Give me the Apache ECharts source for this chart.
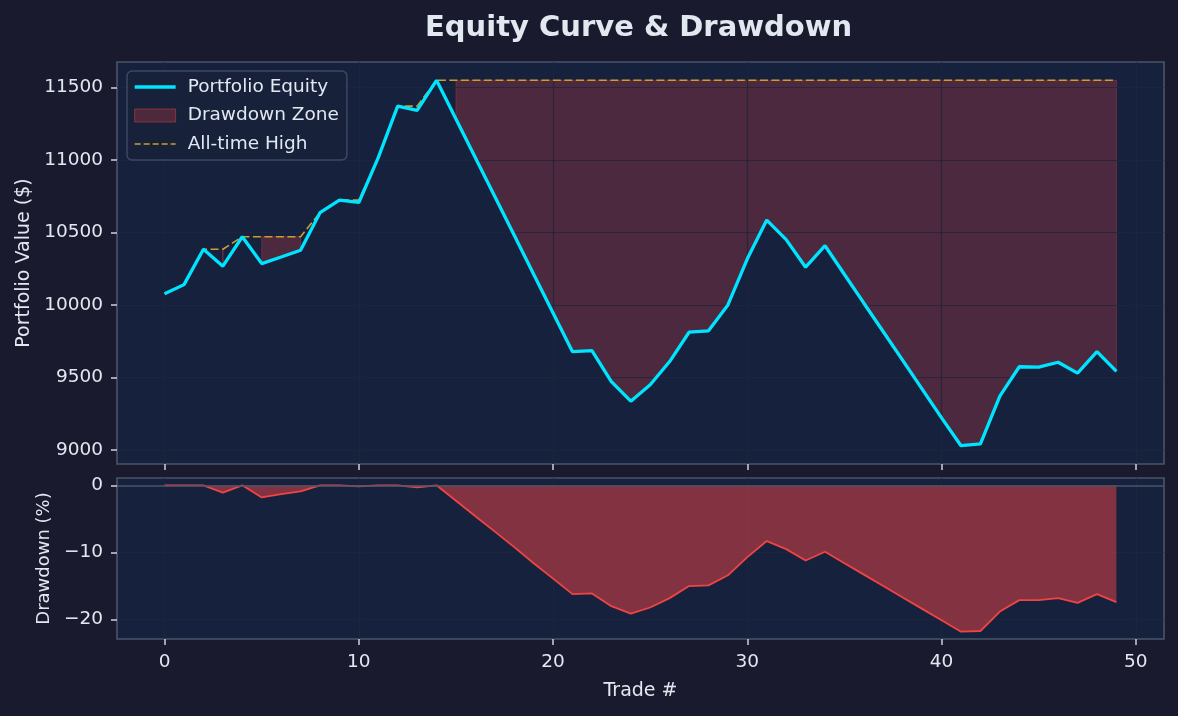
<!DOCTYPE html>
<html>
<head>
<meta charset="utf-8">
<title>Equity Curve &amp; Drawdown</title>
<script src="https://cdn.jsdelivr.net/npm/echarts@6/dist/echarts.min.js"></script>
<style>
  html, body { margin: 0; padding: 0; background: #1a1a2e; }
  #chart { width: 1178px; height: 716px; }
</style>
</head>
<body>
<div id="chart"></div>
<script>
// values, one per trade (0..49)
const equity = [
  10077, 10140, 10384, 10267, 10470, 10285, 10330, 10377, 10636, 10722,
  10706, 11015, 11370, 11340, 11548, 11281, 11014, 10747, 10480, 10212,
  9945, 9678, 9685, 9472, 9337, 9450, 9610, 9812, 9822, 10000,
  10318, 10585, 10450, 10260, 10408, 10210, 10012, 9815, 9618, 9420,
  9222, 9030, 9042, 9372, 9574, 9571, 9605, 9530, 9678, 9542
];
const allTimeHigh = [
  10077, 10140, 10384, 10384, 10470, 10470, 10470, 10470, 10636, 10722,
  10722, 11015, 11370, 11370, 11548, 11548, 11548, 11548, 11548, 11548,
  11548, 11548, 11548, 11548, 11548, 11548, 11548, 11548, 11548, 11548,
  11548, 11548, 11548, 11548, 11548, 11548, 11548, 11548, 11548, 11548,
  11548, 11548, 11548, 11548, 11548, 11548, 11548, 11548, 11548, 11548
];
const drawdownPct = [
  0, 0, 0, -1.1, 0, -1.8, -1.3, -0.9, 0, 0,
  -0.15, 0, 0, -0.3, 0, -2.3, -4.6, -6.9, -9.2, -11.6,
  -13.9, -16.2, -16.1, -18.0, -19.1, -18.2, -16.8, -15.0, -14.9, -13.4,
  -10.7, -8.3, -9.5, -11.2, -9.9, -11.6, -13.3, -15.0, -16.7, -18.4,
  -20.1, -21.8, -21.7, -18.8, -17.1, -17.1, -16.8, -17.5, -16.2, -17.4
];
const tradeTicks = [0, 10, 20, 30, 40, 50];
const equityTicks = [9000, 9500, 10000, 10500, 11000, 11500];
const drawdownTicks = [-20, -10, 0];

const FONT = 'DejaVu Sans';
const TEXT = '#e2e8f0';
const SPINE = '#4a5568';
const GRIDLINE = 'rgba(32,38,58,0.8)';
const ZONE = 'rgba(239,68,68,0.25)';
const CYAN = '#00e5ff';
const GOLD = '#c9a02c';

const equityPts = equity.map((v, i) => [i, v]);
const athPts = allTimeHigh.map((v, i) => [i, v]);
const zonePts = equity.map((v, i) => [i, v, allTimeHigh[i]]);
const ddPts = drawdownPct.map((v, i) => [i, v]);

const minus = v => (v < 0 ? '\u2212' + Math.abs(v) : String(v));
const noSymbol = { color: 'rgba(0,0,0,0)', borderWidth: 0, opacity: 0 };

// fill between equity and the running high, only over runs where equity is below it
function renderZone(params, api) {
  const i = params.dataIndexInside;
  const below = k => api.value(1, k) < api.value(2, k);
  if (!below(i) || (i > 0 && below(i - 1))) return;
  const upper = [], lower = [];
  for (let k = i; k < params.dataInsideLength && below(k); k++) {
    upper.push(api.coord([api.value(0, k), api.value(2, k)]));
    lower.push(api.coord([api.value(0, k), api.value(1, k)]));
  }
  return {
    type: 'polygon',
    shape: { points: upper.concat(lower.reverse()) },
    style: { fill: ZONE, stroke: 'rgba(239,68,68,0.3)', lineWidth: 1 }
  };
}

function xAxisFor(gridIndex, showLabels) {
  return {
    type: 'value', gridIndex, min: -2.45, max: 51.45, z: 2,
    axisLine: { show: false, onZero: false },
    axisTick: { show: true, length: 6, customValues: tradeTicks, lineStyle: { color: '#cbd2dc', width: 1.5 } },
    axisLabel: { show: showLabels, customValues: tradeTicks, color: TEXT, fontSize: 18.5, fontFamily: FONT, margin: 14 },
    splitLine: { show: true, lineStyle: { color: GRIDLINE, width: 1.2 } },
    name: showLabels ? 'Trade #' : '',
    nameLocation: 'middle', nameGap: 43,
    nameTextStyle: { color: TEXT, fontSize: 19, fontFamily: FONT }
  };
}

const chart = echarts.init(document.getElementById('chart'));

chart.setOption({
  backgroundColor: '#1a1a2e',
  animation: false,
  title: {
    text: 'Equity Curve & Drawdown',
    left: 420, top: 9,
    textStyle: { color: TEXT, fontSize: 29, fontWeight: 'bold', fontFamily: FONT }
  },
  legend: {
    left: 127, top: 71, orient: 'vertical',
    padding: [6, 8, 6, 6],
    itemWidth: 41, itemHeight: 13, itemGap: 8.5,
    backgroundColor: 'rgba(24,33,58,0.85)',
    borderColor: '#3c4862', borderWidth: 1.5, borderRadius: 5,
    selectedMode: false,
    textStyle: { color: TEXT, fontSize: 18.5, fontFamily: FONT, lineHeight: 20, padding: [0, 0, 0, 7] },
    data: [
      { name: 'Portfolio Equity', itemStyle: noSymbol, lineStyle: { color: CYAN, width: 3.3 } },
      { name: 'Drawdown Zone', icon: 'rect',
        itemStyle: { color: ZONE, borderColor: 'rgba(239,68,68,0.45)', borderWidth: 1, opacity: 1 } },
      { name: 'All-time High', itemStyle: noSymbol, lineStyle: { color: GOLD, width: 1.6, type: [6, 3] } }
    ]
  },
  grid: [
    { left: 117, top: 62, width: 1047, height: 402, show: true,
      backgroundColor: '#16213e', borderColor: SPINE, borderWidth: 1.6 },
    { left: 117, top: 478, width: 1047, height: 161, show: true,
      backgroundColor: '#16213e', borderColor: SPINE, borderWidth: 1.6 }
  ],
  xAxis: [xAxisFor(0, false), xAxisFor(1, true)],
  yAxis: [
    {
      type: 'value', gridIndex: 0, min: 8904, max: 11674, z: 2,
      axisLine: { show: false, onZero: false },
      axisTick: { show: true, length: 6, customValues: equityTicks, lineStyle: { color: '#cbd2dc', width: 1.5 } },
      axisLabel: { customValues: equityTicks, formatter: v => String(v), color: TEXT, fontSize: 18.5, fontFamily: FONT, margin: 14 },
      splitLine: { show: true, lineStyle: { color: GRIDLINE, width: 1.2 } },
      name: 'Portfolio Value ($)', nameLocation: 'middle', nameGap: 80,
      nameTextStyle: { color: TEXT, fontSize: 19, fontFamily: FONT }
    },
    {
      type: 'value', gridIndex: 1, min: -22.89, max: 1.09, z: 2,
      axisLine: { show: false, onZero: false },
      axisTick: { show: true, length: 6, customValues: drawdownTicks, lineStyle: { color: '#cbd2dc', width: 1.5 } },
      axisLabel: { customValues: drawdownTicks, formatter: minus, color: TEXT, fontSize: 18.5, fontFamily: FONT, margin: 14 },
      splitLine: { show: true, lineStyle: { color: GRIDLINE, width: 1.2 } },
      name: 'Drawdown (%)', nameLocation: 'middle', nameGap: 64,
      nameTextStyle: { color: TEXT, fontSize: 18, fontFamily: FONT }
    }
  ],
  series: [
    {
      name: 'Drawdown Zone', type: 'custom', xAxisIndex: 0, yAxisIndex: 0,
      data: zonePts, encode: { x: 0, y: [1, 2] }, renderItem: renderZone,
      silent: true, z: 1, color: ZONE
    },
    {
      name: 'All-time High', type: 'line', xAxisIndex: 0, yAxisIndex: 0,
      data: athPts, symbol: 'none', z: 3, color: GOLD,
      lineStyle: { color: GOLD, width: 1.6, type: [8, 3.5] }
    },
    {
      name: 'Portfolio Equity', type: 'line', xAxisIndex: 0, yAxisIndex: 0,
      data: equityPts, symbol: 'none', z: 4, color: CYAN,
      lineStyle: { color: CYAN, width: 3.3 }
    },
    {
      name: 'Drawdown', type: 'line', xAxisIndex: 1, yAxisIndex: 1,
      data: ddPts, symbol: 'none', z: 3, color: '#ef4444',
      lineStyle: { color: '#ef4444', width: 1.8 },
      areaStyle: { color: 'rgba(239,68,68,0.5)', opacity: 1 },
      markLine: {
        silent: true, symbol: 'none', label: { show: false },
        lineStyle: { color: SPINE, width: 1.5, type: 'solid' },
        data: [{ yAxis: 0 }]
      }
    }
  ]
});
</script>
</body>
</html>
